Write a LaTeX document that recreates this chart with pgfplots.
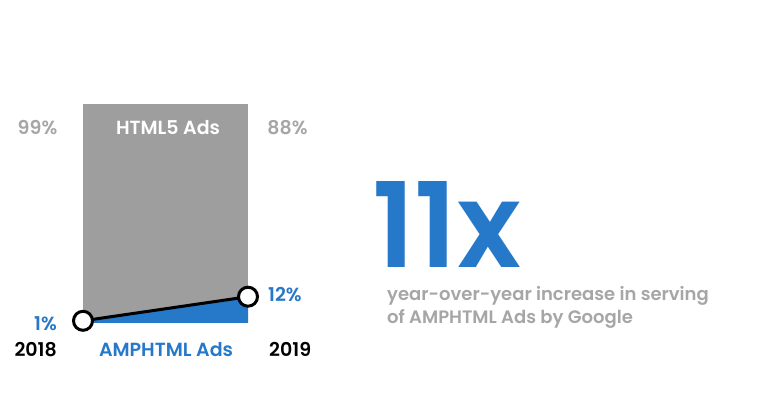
\documentclass[border=0pt]{standalone}
\usepackage{fontspec}
\setmainfont{Poppins}[BoldFont={* SemiBold}]
\usepackage{pgfplots}
\pgfplotsset{compat=1.18}
\definecolor{gblue}{HTML}{2678C9}
\definecolor{ggray}{HTML}{9E9E9E}
\definecolor{tgray}{HTML}{A6A6A6}
\begin{document}
\begin{tikzpicture}[x=1pt,y=1pt]
\useasboundingbox (0,0) rectangle (761,409);
\begin{axis}[
  at={(83pt,86pt)}, anchor=south west,
  scale only axis, width=165pt, height=219pt,
  xmin=0, xmax=1, ymin=0, ymax=100,
  hide axis, clip=false,
]
% HTML5 share (stacked to 100%)
\addplot[fill=ggray, draw=none] coordinates {(0,100) (1,100)} \closedcycle;
% AMPHTML share
\addplot[fill=gblue, draw=none] coordinates {(0,1) (1,12)} \closedcycle;
\addplot[black, line width=3pt, mark=*, mark size=9.5pt,
  mark options={fill=white, draw=black, line width=3pt}] coordinates {(0,1) (1,12)};
\end{axis}
% labels, picture coords (y measured from top)
\begin{scope}[every node/.style={inner sep=0pt, font=\fontsize{19}{22}\selectfont\bfseries}]
\node[anchor=base, text=tgray] at (37.5,409-135) {99\%};
\node[anchor=base, text=white] at (168,409-135) {HTML5 Ads};
\node[anchor=base, text=tgray] at (287.5,409-135) {88\%};
\node[anchor=base east, text=gblue] at (57,409-331) {1\%};
\node[anchor=base west, text=gblue] at (268,409-302) {12\%};
\node[anchor=base east, text=black] at (57,409-357) {2018};
\node[anchor=base, text=gblue] at (166,409-357) {AMPHTML Ads};
\node[anchor=base west, text=black] at (269,409-357) {2019};
\node[anchor=base west, text=gblue, text depth=0pt, font=\fontsize{118}{120}\selectfont\bfseries] at (372,409-268) {11x};
\node[anchor=base west, text=tgray, font=\fontsize{18}{21}\selectfont\bfseries] at (387,409-301) {year-over-year increase in serving};
\node[anchor=base west, text=tgray, font=\fontsize{18}{21}\selectfont\bfseries] at (387,409-324) {of AMPHTML Ads by Google};
\end{scope}
\end{tikzpicture}
\end{document}
